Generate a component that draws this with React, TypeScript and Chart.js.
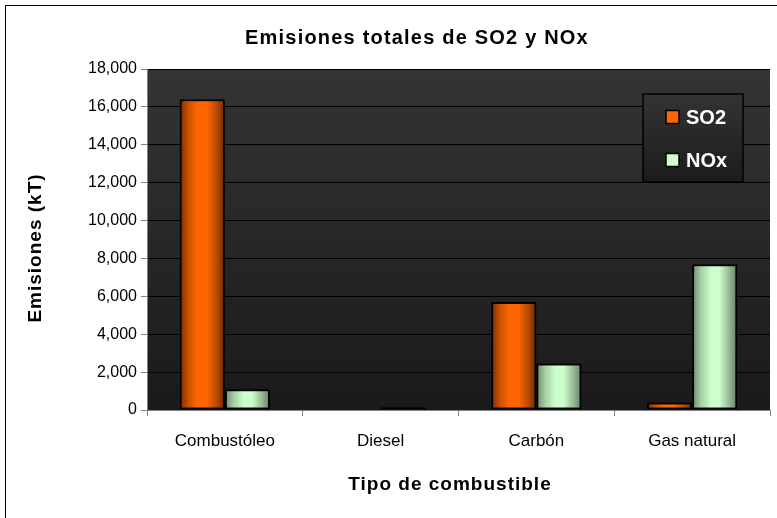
import React, { useEffect, useRef } from "react";
import { Chart, registerables } from "chart.js";

Chart.register(...registerables);

const categories = ["Combustóleo", "Diesel", "Carbón", "Gas natural"];
const seriesNames = ["SO2", "NOx"];
const so2Values = [16400, 0, 5700, 400];
const noxValues = [1100, 150, 2450, 7700];
const yMin = 0;
const yMax = 18000;
const yStep = 2000;
const chartTitle = "Emisiones totales de SO2 y NOx";
const xAxisTitle = "Tipo de combustible";
const yAxisTitle = "Emisiones (kT)";

const FONT = "'Liberation Sans', Arial, sans-serif";
const CAT_PCT = 0.58;

const orangeStops: [number, string][] = [
  [0, "#7a2c00"],
  [0.2, "#cc5200"],
  [0.4, "#ff6600"],
  [0.6, "#ff6600"],
  [0.82, "#b84a00"],
  [1, "#6e2800"],
];
const greenStops: [number, string][] = [
  [0, "#6a8a6a"],
  [0.2, "#a6d0a6"],
  [0.42, "#ccffcc"],
  [0.6, "#ccffcc"],
  [0.82, "#98b898"],
  [1, "#647e64"],
];

function barGradient(stops: [number, string][], side: number) {
  return (ctx: any) => {
    const chart = ctx.chart;
    const xs = chart.scales && chart.scales.x;
    if (!xs || ctx.dataIndex === undefined || !chart.chartArea) return stops[2][1];
    const center = xs.getPixelForValue(ctx.dataIndex);
    const catW = xs.width / categories.length;
    const bw = (catW * CAT_PCT) / 2;
    const left = side === 0 ? center - bw : center;
    const g = chart.ctx.createLinearGradient(left, 0, left + bw, 0);
    stops.forEach(([o, c]) => g.addColorStop(o, c));
    return g;
  };
}

const decorPlugin = {
  id: "decor",
  beforeDraw(chart: any) {
    const { ctx, chartArea } = chart;
    ctx.save();
    ctx.fillStyle = "#ffffff";
    ctx.fillRect(0, 0, chart.width, chart.height);
    ctx.strokeStyle = "#000000";
    ctx.lineWidth = 1;
    ctx.strokeRect(5.5, 5.5, chart.width + 20, chart.height + 20);
    const g = ctx.createLinearGradient(0, chartArea.top, 0, chartArea.bottom);
    g.addColorStop(0, "#343434");
    g.addColorStop(1, "#1a1a1a");
    ctx.fillStyle = g;
    ctx.fillRect(chartArea.left, chartArea.top, chartArea.right - chartArea.left, chartArea.bottom - chartArea.top);
    ctx.restore();
  },
  afterDraw(chart: any) {
    const { ctx } = chart;
    ctx.save();
    ctx.fillStyle = "#000000";
    ctx.textAlign = "center";
    ctx.textBaseline = "middle";
    (ctx as any).letterSpacing = "1.2px";
    ctx.font = `bold 20px ${FONT}`;
    ctx.fillText(chartTitle, 417, 38);
    (ctx as any).letterSpacing = "1px";
    ctx.font = `bold 19px ${FONT}`;
    ctx.fillText(xAxisTitle, 450, 485);
    ctx.save();
    ctx.translate(36, 248);
    ctx.rotate(-Math.PI / 2);
    ctx.fillText(yAxisTitle, 0, 0);
    ctx.restore();
    (ctx as any).letterSpacing = "0px";

    // legend
    const lx = 643, ly = 94, lw = 100, lh = 88;
    const lg = ctx.createLinearGradient(0, ly, 0, ly + lh);
    lg.addColorStop(0, "#333333");
    lg.addColorStop(1, "#1c1c1c");
    ctx.fillStyle = lg;
    ctx.fillRect(lx, ly, lw, lh);
    ctx.strokeStyle = "#000000";
    ctx.lineWidth = 1.5;
    ctx.strokeRect(lx, ly, lw, lh);
    const colors = ["#ff6600", "#ccffcc"];
    const rows = [117, 160];
    seriesNames.forEach((name, i) => {
      ctx.fillStyle = colors[i];
      ctx.fillRect(666, rows[i] - 6.5, 13, 13);
      ctx.strokeStyle = "#000000";
      ctx.lineWidth = 1.5;
      ctx.strokeRect(666, rows[i] - 6.5, 13, 13);
      ctx.fillStyle = "#ffffff";
      ctx.textAlign = "left";
      ctx.font = `bold 20px ${FONT}`;
      ctx.fillText(name, 686, rows[i] + 1);
    });
    ctx.restore();
  },
};

export default function App() {
  const ref = useRef<HTMLCanvasElement>(null);
  useEffect(() => {
    const chart = new Chart(ref.current as HTMLCanvasElement, {
      type: "bar",
      data: {
        labels: categories,
        datasets: [
          {
            label: seriesNames[0],
            data: so2Values,
            backgroundColor: barGradient(orangeStops, 0),
            borderColor: "#000000",
            borderWidth: 2,
            borderSkipped: false,
            categoryPercentage: CAT_PCT,
            barPercentage: 1,
          },
          {
            label: seriesNames[1],
            data: noxValues,
            backgroundColor: barGradient(greenStops, 1),
            borderColor: "#000000",
            borderWidth: 2,
            borderSkipped: false,
            categoryPercentage: CAT_PCT,
            barPercentage: 1,
          },
        ],
      },
      options: {
        animation: false,
        responsive: true,
        maintainAspectRatio: false,
        layout: { padding: { top: 69, right: 7, left: 0, bottom: 0 } },
        plugins: {
          legend: { display: false },
          title: { display: false },
          tooltip: { enabled: false },
        },
        scales: {
          x: {
            afterFit: (s: any) => {
              s.height = 108;
            },
            grid: {
              display: true,
              drawOnChartArea: false,
              tickLength: 6,
              tickColor: "#808080",
              offset: true,
            },
            border: { color: "#808080", width: 1 },
            ticks: {
              color: "#000000",
              font: { family: FONT, size: 17 },
              padding: 15,
            },
          },
          y: {
            min: yMin,
            max: yMax,
            afterFit: (s: any) => {
              s.width = 147;
            },
            ticks: {
              stepSize: yStep,
              color: "#000000",
              font: { family: FONT, size: 16 },
              padding: 4,
              callback: (v: any) => Number(v).toLocaleString("en-US"),
            },
            grid: {
              color: "#000000",
              lineWidth: 1,
              tickLength: 6,
              tickColor: "#808080",
            },
            border: { color: "#808080", width: 1 },
          },
        },
      },
      plugins: [decorPlugin],
    });
    return () => chart.destroy();
  }, []);
  return (
    <div style={{ position: "absolute", left: 0, top: 0, width: 777, height: 518 }}>
      <canvas ref={ref} width={777} height={518} />
    </div>
  );
}
